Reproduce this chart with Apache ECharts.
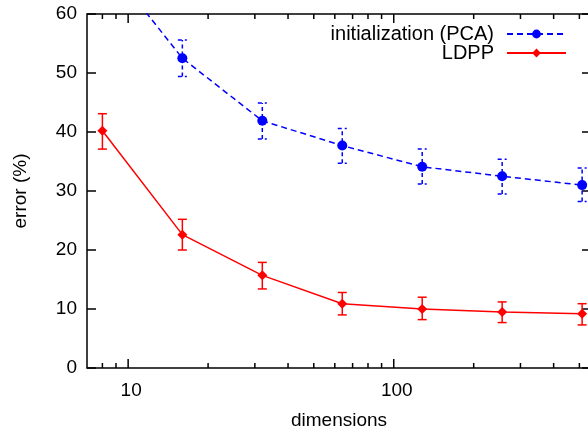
<!DOCTYPE html>
<html>
<head>
<meta charset="utf-8">
<script src="https://cdn.jsdelivr.net/npm/echarts@6/dist/echarts.min.js"></script>
<style>
  html, body { margin: 0; padding: 0; background: #fff; }
  #chart { width: 588px; height: 432px; }
</style>
</head>
<body>
<div id="chart"></div>
<script>
// data
const dims = [8, 16, 32, 64, 128, 256, 512];
const pcaMean = [69.6, 52.5, 41.9, 37.7, 34.1, 32.5, 31.0];
const pcaLow = [66.5, 49.4, 38.8, 34.7, 31.2, 29.5, 28.2];
const pcaHigh = [72.7, 55.6, 44.9, 40.6, 37.1, 35.4, 33.9];
const ldppMean = [40.2, 22.6, 15.7, 10.9, 10.0, 9.5, 9.2];
const ldppLow = [37.1, 20.0, 13.4, 9.0, 8.2, 7.7, 7.3];
const ldppHigh = [43.1, 25.2, 17.9, 12.8, 12.0, 11.2, 10.9];
const xMajorTicks = [10, 100];
const xMinorTicks = [8, 9, 20, 30, 40, 50, 60, 70, 80, 90, 200, 300, 400, 500];
const yMin = 0, yMax = 60;

const font = '"Liberation Sans", Arial, Helvetica, sans-serif';
const BLUE = '#0000ff', RED = '#ff0000';

const chart = echarts.init(document.getElementById('chart'), null, { renderer: 'canvas' });

function zip3(a, b, c) {
    return dims.map((d, i) => [d, b[i], c[i]]);
}

// error bars: vertical line + small caps
function errorBars(color, dash) {
    return function (params, api) {
        const x = api.value(0);
        const lo = api.coord([x, api.value(1)]);
        const hi = api.coord([x, api.value(2)]);
        const w = 4.5;
        const style = { stroke: color, lineWidth: 1.5, lineDash: dash };
        return {
            type: 'group',
            children: [
                { type: 'line', shape: { x1: lo[0], y1: lo[1], x2: hi[0], y2: hi[1] }, style },
                { type: 'line', shape: { x1: lo[0] - w, y1: lo[1], x2: lo[0] + w, y2: lo[1] }, style },
                { type: 'line', shape: { x1: hi[0] - w, y1: hi[1], x2: hi[0] + w, y2: hi[1] }, style }
            ]
        };
    };
}

// log axis ticks on bottom and mirrored on top
function xTicks(params, api) {
    const x = api.value(0);
    const len = api.value(1);
    const b = api.coord([x, yMin]);
    const t = api.coord([x, yMax]);
    const style = { stroke: '#000', lineWidth: 1.5 };
    return {
        type: 'group',
        children: [
            { type: 'line', shape: { x1: b[0], y1: b[1], x2: b[0], y2: b[1] - len }, style },
            { type: 'line', shape: { x1: t[0], y1: t[1], x2: t[0], y2: t[1] + len }, style }
        ]
    };
}

const legendBase = {
    right: 16,
    align: 'right',
    orient: 'horizontal',
    itemWidth: 59,
    itemHeight: 11,
    textStyle: { fontFamily: font, fontSize: 20, color: '#000', padding: [0, 8, 0, 0] }
};

const option = {
    animation: false,
    backgroundColor: '#fff',
    grid: {
        left: 87, right: -3, top: 14, bottom: 64,
        outerBoundsMode: 'none',
        show: true, borderColor: '#000', borderWidth: 1.5, backgroundColor: 'transparent'
    },
    legend: [
        Object.assign({}, legendBase, { data: ['initialization (PCA)'], top: 19 }),
        Object.assign({}, legendBase, { data: ['LDPP'], top: 38 })
    ],
    xAxis: {
        type: 'log',
        logBase: 10,
        min: 7,
        max: 553,
        name: 'dimensions',
        nameLocation: 'middle',
        nameGap: 43,
        nameTextStyle: { fontFamily: font, fontSize: 19, color: '#000' },
        axisLine: { show: false },
        axisTick: { show: false },
        splitLine: { show: false },
        minorTick: { show: false },
        axisLabel: {
            fontFamily: font, fontSize: 19, color: '#000', margin: 13,
            padding: [0, 0, 0, 6],
            showMinLabel: false, showMaxLabel: false
        }
    },
    yAxis: [
        {
            type: 'value',
            min: yMin, max: yMax, interval: 10,
            name: 'error (%)',
            nameLocation: 'middle',
            nameGap: 57,
            nameTextStyle: { fontFamily: font, fontSize: 19, color: '#000' },
            axisLine: { show: false },
            axisTick: { show: true, inside: true, length: 9, lineStyle: { color: '#000', width: 1.5 } },
            splitLine: { show: false },
            axisLabel: { fontFamily: font, fontSize: 19, color: '#000', margin: 10 }
        },
        {
            type: 'value',
            position: 'right',
            min: yMin, max: yMax, interval: 10,
            axisLine: { show: false },
            axisTick: { show: true, inside: true, length: 9, lineStyle: { color: '#000', width: 1.5 } },
            splitLine: { show: false },
            axisLabel: { show: false }
        }
    ],
    series: [
        {
            name: 'x major ticks', type: 'custom', silent: true, clip: false,
            renderItem: xTicks, data: xMajorTicks.map(v => [v, 9]),
            encode: { x: 0, y: 1 }, z: 1
        },
        {
            name: 'x minor ticks', type: 'custom', silent: true, clip: false,
            renderItem: xTicks, data: xMinorTicks.map(v => [v, 5]),
            encode: { x: 0, y: 1 }, z: 1
        },
        {
            name: 'pca err', type: 'custom', clip: true, silent: true,
            renderItem: errorBars(BLUE, [4, 3]),
            data: zip3(dims, pcaLow, pcaHigh),
            encode: { x: 0, y: [1, 2] }, z: 3
        },
        {
            name: 'ldpp err', type: 'custom', clip: true, silent: true,
            renderItem: errorBars(RED, null),
            data: zip3(dims, ldppLow, ldppHigh),
            encode: { x: 0, y: [1, 2] }, z: 3
        },
        {
            name: 'initialization (PCA)', type: 'line', clip: true,
            data: dims.map((d, i) => [d, pcaMean[i]]),
            symbol: 'circle', symbolSize: 10,
            itemStyle: { color: BLUE },
            lineStyle: { color: BLUE, width: 1.5, type: [6, 4] },
            z: 4
        },
        {
            name: 'LDPP', type: 'line', clip: true,
            data: dims.map((d, i) => [d, ldppMean[i]]),
            symbol: 'diamond', symbolSize: 10,
            itemStyle: { color: RED },
            lineStyle: { color: RED, width: 1.5 },
            z: 4
        }
    ]
};

chart.setOption(option);
</script>
</body>
</html>
